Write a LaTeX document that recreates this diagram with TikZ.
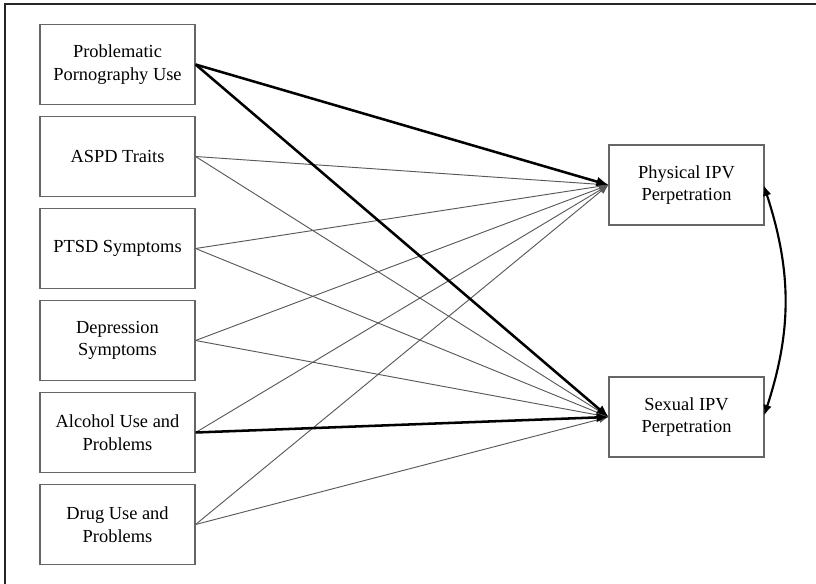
\documentclass[tikz,border=0pt]{standalone}
\usepackage{fontspec}
\setmainfont{Liberation Serif}
\usetikzlibrary{arrows.meta, positioning}
\def\boxsep{92}

\begin{document}
\begin{tikzpicture}[x=0.75pt,y=-0.75pt,>={Latex[length=7pt,width=5.5pt]}]
    \tikzstyle{var}=[rectangle,draw=black!60,line width=1.1pt,minimum width=116pt,minimum height=60pt,inner sep=2pt,align=center,font=\fontsize{13.8}{17}\selectfont]
    \tikzstyle{predictor}=[var]
    \tikzstyle{outcome}=[var]
    \tikzstyle{path}=[->,draw=black!65,line width=0.7pt]
    \tikzstyle{strong path}=[-{Latex[length=9pt,width=7.5pt]},draw=black,line width=1.9pt]

    \useasboundingbox (0,0) rectangle (816,584);
    % frame of the figure (only top and left are left in the crop)
    \draw[line width=1.2pt,black!85] (5,584) -- (5,4) -- (816,4);

    % Draw the predictor nodes
    \foreach \name / \txt in {1/{Problematic\\Pornography Use},2/{ASPD Traits},3/{PTSD Symptoms},
                              4/{Depression\\Symptoms},5/{Alcohol Use and\\Problems},6/{Drug Use and\\Problems}}
        \node[predictor] (P-\name) at (117.5,{64.5+(\name-1)*\boxsep}) {\txt};

    % Draw the outcome nodes
    \node[outcome] (O-1) at (686.5,185) {Physical IPV\\Perpetration};
    \node[outcome] (O-2) at (686.5,417) {Sexual IPV\\Perpetration};

    % Connect every predictor with both outcomes
    \foreach \source in {1,...,6}
        \foreach \dest in {1,2}
            \draw[path] (P-\source.east) -- (O-\dest.west);

    % Significant paths
    \draw[strong path] (P-1.east) -- (O-1.west);
    \draw[strong path] (P-1.east) -- (O-2.west);
    \draw[strong path] (P-5.east) -- (O-2.west);

    % Correlated outcomes
    \draw[{Latex[length=8pt,width=6.5pt]}-{Latex[length=8pt,width=6.5pt]},line width=1.6pt,shorten <=-2pt,shorten >=-1pt] ([yshift=-2pt]O-1.east) to[bend left=18] ([yshift=2pt]O-2.east);
\end{tikzpicture}
\end{document}
